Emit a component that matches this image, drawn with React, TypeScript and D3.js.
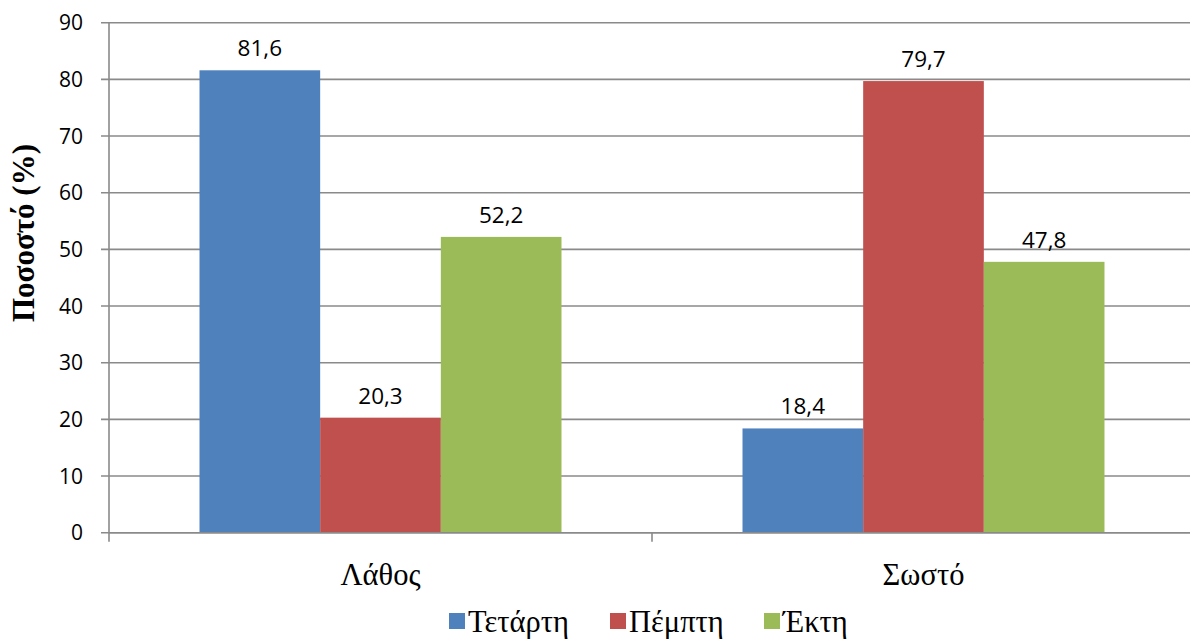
import React from "react";
import * as d3 from "d3";

// Answer categories and the three days compared
const categories = ["Λάθος", "Σωστό"];
const seriesNames = ["Τετάρτη", "Πέμπτη", "Έκτη"];
const seriesColors = ["#4F81BD", "#C0504D", "#9BBB59"];
// Percentages per series, in category order
const tetarti = [81.6, 18.4];
const pempti = [20.3, 79.7];
const ekti = [52.2, 47.8];
const yTicks = [0, 10, 20, 30, 40, 50, 60, 70, 80, 90];
const yTitle = "Ποσοστό (%)";

const seriesValues = [tetarti, pempti, ekti];

const W = 1190;
const H = 641;
const plot = { left: 109, right: 1195, top: 22.7, bottom: 532.7 };
const gridColor = "#8a8a8a";
const sans = "'Open Sans', 'Liberation Sans', sans-serif";
const serif = "'Liberation Serif', 'Times New Roman', serif";

export default function App() {
  const y = d3.scaleLinear().domain([0, 90]).range([plot.bottom, plot.top]);
  const x0 = d3
    .scaleBand<string>()
    .domain(categories)
    .range([plot.left, plot.right])
    .paddingInner(0)
    .paddingOuter(0);
  const bw = x0.bandwidth();
  const x1 = d3
    .scaleBand<string>()
    .domain(seriesNames)
    .range([bw / 6, (bw * 5) / 6])
    .padding(0);

  const fmt = (v: number) => v.toFixed(1).replace(".", ",");

  // Legend entries: x of each colour swatch
  const legendX = [449, 610, 764];

  return (
    <svg
      width={W}
      height={H}
      style={{ position: "absolute", left: 0, top: 0, background: "#fff" }}
    >
      {/* horizontal gridlines */}
      {yTicks.map((t) => (
        <line
          key={"g" + t}
          x1={plot.left - 8}
          x2={plot.right}
          y1={y(t)}
          y2={y(t)}
          stroke={gridColor}
          strokeWidth={1.6}
        />
      ))}
      {/* y tick labels */}
      {yTicks.map((t) => (
        <text
          key={"t" + t}
          x={83}
          y={y(t)}
          dy="0.36em"
          textAnchor="end"
          fontFamily={sans}
          fontSize={21}
          fill="#000"
        >
          {t}
        </text>
      ))}
      {/* bars */}
      {categories.map((c, ci) => (
        <g key={c} transform={`translate(${x0(c)},0)`}>
          {seriesNames.map((s, si) => {
            const v = seriesValues[si][ci];
            return (
              <rect
                key={s}
                x={x1(s)}
                y={y(v)}
                width={x1.bandwidth()}
                height={y(0) - y(v)}
                fill={seriesColors[si]}
              />
            );
          })}
          {seriesNames.map((s, si) => {
            const v = seriesValues[si][ci];
            return (
              <text
                key={"l" + s}
                x={(x1(s) as number) + x1.bandwidth() / 2}
                y={y(v) - 14}
                textAnchor="middle"
                fontFamily={sans}
                fontSize={22.5}
                fill="#000"
              >
                {fmt(v)}
              </text>
            );
          })}
        </g>
      ))}
      {/* axes */}
      <line
        x1={plot.left}
        x2={plot.left}
        y1={plot.top}
        y2={plot.bottom + 9}
        stroke={gridColor}
        strokeWidth={1.6}
      />
      <line
        x1={plot.left}
        x2={plot.right}
        y1={plot.bottom}
        y2={plot.bottom}
        stroke={gridColor}
        strokeWidth={1.6}
      />
      {categories.map((c) => (
        <line
          key={"xt" + c}
          x1={(x0(c) as number) + bw}
          x2={(x0(c) as number) + bw}
          y1={plot.bottom}
          y2={plot.bottom + 9}
          stroke={gridColor}
          strokeWidth={1.6}
        />
      ))}
      {/* category labels */}
      {categories.map((c) => (
        <text
          key={"c" + c}
          x={(x0(c) as number) + bw / 2}
          y={585}
          textAnchor="middle"
          fontFamily={serif}
          fontSize={30.5}
          fill="#000"
        >
          {c}
        </text>
      ))}
      {/* y axis title */}
      <text
        transform={`translate(34,233) rotate(-90)`}
        textAnchor="middle"
        fontFamily={serif}
        fontWeight="bold"
        fontSize={31}
        fill="#000"
      >
        {yTitle}
      </text>
      {/* legend */}
      {seriesNames.map((s, i) => (
        <g key={"lg" + s} transform={`translate(${legendX[i]},0)`}>
          <rect x={0} y={613} width={16} height={16} fill={seriesColors[i]} />
          <text x={19} y={632} fontFamily={serif} fontSize={30.5} fill="#000">
            {s}
          </text>
        </g>
      ))}
    </svg>
  );
}
